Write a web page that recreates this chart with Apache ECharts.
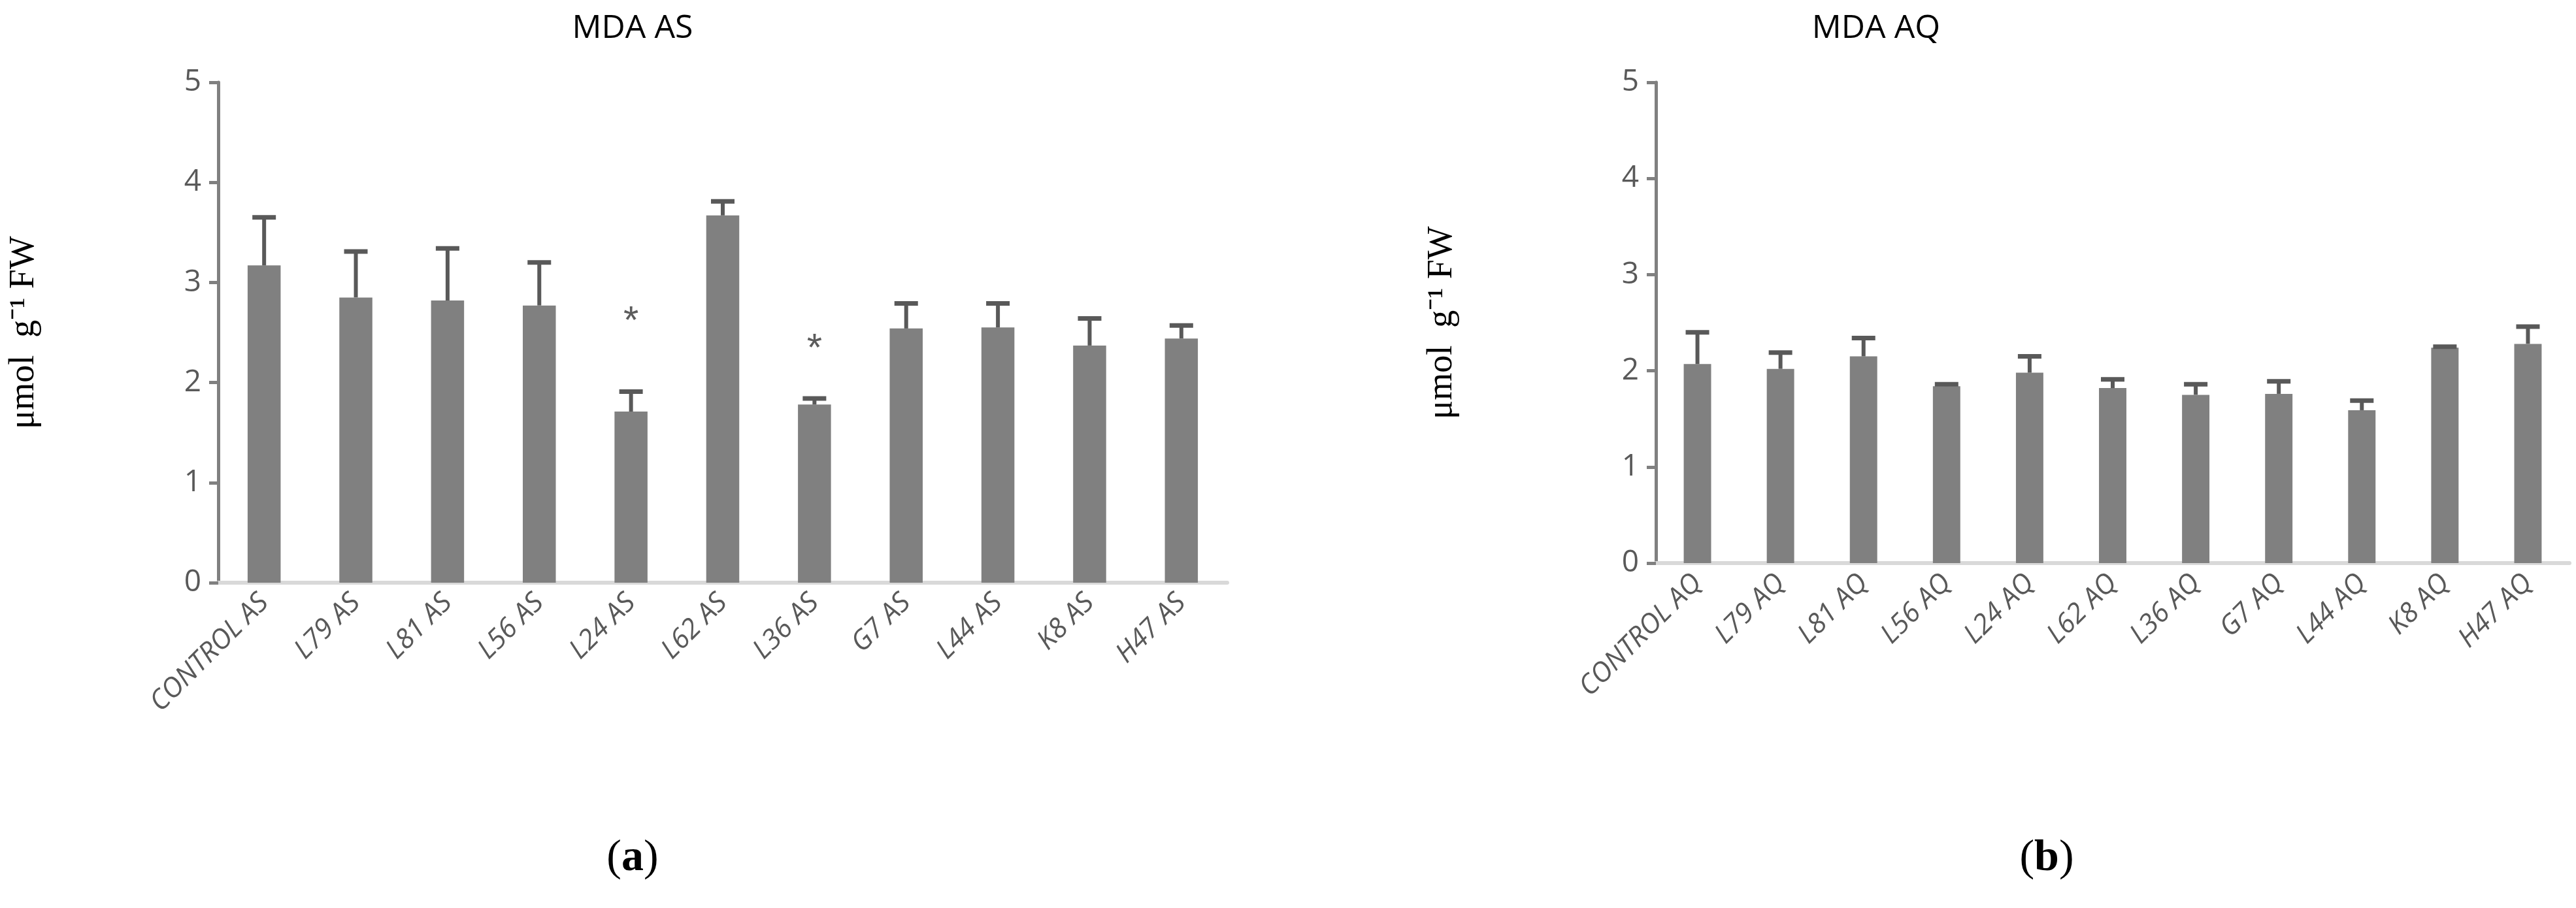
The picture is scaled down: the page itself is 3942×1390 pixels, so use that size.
<!DOCTYPE html>
<html><head><meta charset="utf-8">
<script src="https://cdn.jsdelivr.net/npm/echarts@6/dist/echarts.min.js"></script>
<style>html,body{margin:0;background:#fff}#c{width:3942px;height:1390px}</style>
</head><body><div id="c"></div>
<script>
const catsAS = ["CONTROL AS","L79 AS","L81 AS","L56 AS","L24 AS","L62 AS","L36 AS","G7 AS","L44 AS","K8 AS","H47 AS"];
const meanAS = [3.17,2.85,2.82,2.77,1.71,3.67,1.78,2.54,2.55,2.37,2.44];
const errAS  = [0.48,0.46,0.52,0.43,0.20,0.14,0.06,0.25,0.24,0.27,0.13];
const starAS = [null,null,null,null,2.6,null,2.33,null,null,null,null];
const catsAQ = ["CONTROL AQ","L79 AQ","L81 AQ","L56 AQ","L24 AQ","L62 AQ","L36 AQ","G7 AQ","L44 AQ","K8 AQ","H47 AQ"];
const meanAQ = [2.07,2.02,2.15,1.84,1.98,1.82,1.75,1.76,1.59,2.24,2.28];
const errAQ  = [0.33,0.17,0.19,0.02,0.17,0.09,0.11,0.13,0.10,0.01,0.18];
const yTicks = [0,1,2,3,4,5];

const chart = echarts.init(document.getElementById('c'));
const grey='#808080', dark='#595959';
function errSeries(idx, means, errs){
  return {type:'custom', xAxisIndex:idx, yAxisIndex:idx, z:3,
    data: means.map((m,i)=>[i,m,m+errs[i]]),
    renderItem:(p,api)=>{
      const a=api.coord([api.value(0),api.value(1)]);
      const b=api.coord([api.value(0),api.value(2)]);
      return {type:'group',children:[
        {type:'line',shape:{x1:a[0],y1:a[1],x2:a[0],y2:b[1]},style:{stroke:dark,lineWidth:6}},
        {type:'line',shape:{x1:a[0]-18,y1:b[1],x2:a[0]+18,y2:b[1]},style:{stroke:dark,lineWidth:7}}
      ]};
    }};
}
function xAx(idx,cats){return {type:'category',gridIndex:idx,data:cats,
  axisLine:{lineStyle:{color:'#d9d9d9',width:6}},axisTick:{show:false},
  axisLabel:{rotate:45,color:dark,fontSize:42,fontFamily:'Open Sans',fontStyle:'italic',margin:24,interval:0}};}
function yAx(idx,gap){return {type:'value',gridIndex:idx,min:0,max:5,interval:1,
  name:'μmol  g\u207B\u00B9 FW',nameLocation:'middle',nameGap:gap,nameRotate:90,
  nameTextStyle:{fontFamily:'Liberation Serif',fontSize:54,color:'#000'},
  axisLine:{show:true,lineStyle:{color:grey,width:5}},axisTick:{show:true,length:14,lineStyle:{color:grey,width:5}},
  splitLine:{show:false},
  axisLabel:{color:dark,fontSize:46,fontFamily:'Open Sans',margin:26,formatter:v=>yTicks.includes(v)?String(v):''}};}
chart.setOption({
  animation:false,
  title:[
    {text:'MDA AS',left:963,top:14,textAlign:'center',textStyle:{fontFamily:'Open Sans',fontWeight:'normal',fontSize:50,color:'#000'}},
    {text:'MDA AQ',left:2866,top:14,textAlign:'center',textStyle:{fontFamily:'Open Sans',fontWeight:'normal',fontSize:50,color:'#000'}},
    {text:'({a|a})',left:963,top:1275,textAlign:'center',textStyle:{fontFamily:'Liberation Serif',fontWeight:'normal',fontSize:68,color:'#000',rich:{a:{fontFamily:'Liberation Serif',fontWeight:'bold',fontSize:68,color:'#000'}}}},
    {text:'({a|b})',left:3127,top:1275,textAlign:'center',textStyle:{fontFamily:'Liberation Serif',fontWeight:'normal',fontSize:68,color:'#000',rich:{a:{fontFamily:'Liberation Serif',fontWeight:'bold',fontSize:68,color:'#000'}}}}
  ],
  grid:[{left:334,right:2064,top:126,bottom:498},{left:2534,right:10,top:126,bottom:528}],
  xAxis:[xAx(0,catsAS),xAx(1,catsAQ)],
  yAxis:[yAx(0,270),yAx(1,300)],
  series:[
    {type:'bar',xAxisIndex:0,yAxisIndex:0,data:meanAS,barWidth:'36%',itemStyle:{color:grey}},
    errSeries(0,meanAS,errAS),
    {type:'scatter',xAxisIndex:0,yAxisIndex:0,data:starAS,symbolSize:1,itemStyle:{color:'transparent'},
      label:{show:true,formatter:'*',position:'inside',fontSize:60,color:'#333',fontFamily:'Liberation Sans'}},
    {type:'bar',xAxisIndex:1,yAxisIndex:1,data:meanAQ,barWidth:'33%',itemStyle:{color:grey}},
    errSeries(1,meanAQ,errAQ)
  ]
});
</script></body></html>
